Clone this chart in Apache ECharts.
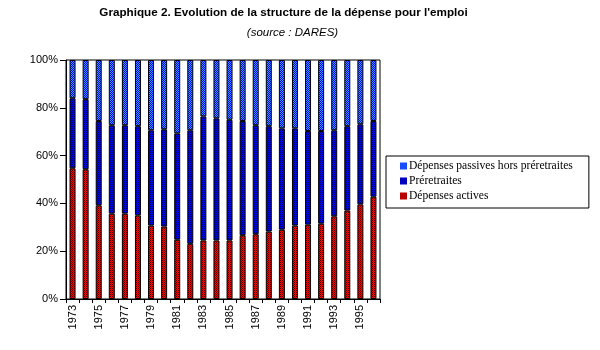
<!DOCTYPE html>
<html><head><meta charset="utf-8">
<script src="https://cdn.jsdelivr.net/npm/echarts@6/dist/echarts.min.js"></script>
<style>html,body{margin:0;padding:0;background:#fff}#c{width:600px;height:350px}</style>
</head><body><div id="c"></div>
<script>
var years = ['1973','1974','1975','1976','1977','1978','1979','1980','1981','1982','1983','1984','1985','1986','1987','1988','1989','1990','1991','1992','1993','1994','1995','1996'];
var actives = [54.7,54.3,39.2,35.7,35.7,35.0,30.7,30.3,24.8,23.1,24.5,24.5,24.5,26.7,27.1,28.2,29.0,30.7,31.1,31.5,34.6,37.0,39.6,42.8];
var preretraites = [29.3,29.3,35.3,37.0,37.0,37.3,39.9,40.7,44.5,47.5,51.9,51.1,50.5,47.8,45.6,44.1,42.4,40.7,39.2,38.8,36.0,35.3,33.5,31.7];
var passives = [16.0,16.4,25.5,27.3,27.3,27.7,29.4,29.0,30.7,29.4,23.6,24.4,25.0,25.5,27.3,27.7,28.6,28.6,29.7,29.7,29.4,27.7,26.9,25.5];
var yTicks = [0,20,40,60,80,100];
var names = ['Dépenses actives','Préretraites','Dépenses passives hors préretraites'];

function checker(a,b){
  var c=document.createElement('canvas');c.width=2;c.height=2;
  var g=c.getContext('2d');
  g.fillStyle=a;g.fillRect(0,0,2,2);
  g.fillStyle=b;g.fillRect(0,0,1,1);g.fillRect(1,1,1,1);
  return {image:c,repeat:'repeat'};
}
var cRed = checker('#ff0000','#700000');
var cDark = checker('#0000ff','#000080');
var cLight = checker('#0000ff','#3399ff');

var chart = echarts.init(document.getElementById('c'),null,{renderer:'canvas'});
function mk(name,data,color){
  return {name:name,type:'bar',stack:'s',data:data,barWidth:6,
    itemStyle:{color:color,borderColor:'#000',borderWidth:1},emphasis:{disabled:true}};
}
chart.setOption({
  animation:false,
  graphic:[
    {type:'text',x:283.5,y:7,style:{text:"Graphique 2. Evolution de la structure de la dépense pour l'emploi",
      textAlign:'center',textVerticalAlign:'top',fill:'#000',font:"bold 11.7px 'Liberation Sans',sans-serif"}},
    {type:'text',x:292.5,y:27,style:{text:"(source : DARES)",textAlign:'center',textVerticalAlign:'top',fill:'#000',
      font:"italic 11.5px 'Liberation Sans',sans-serif"}}
  ],
  grid:{left:66,right:220,top:60,bottom:51,show:true,borderColor:'#000',borderWidth:1,backgroundColor:'transparent'},
  legend:{orient:'vertical',left:386,top:156,itemWidth:7,itemHeight:7,itemGap:3,icon:'rect',
    data:[names[2],names[1],names[0]],
    borderColor:'#000',borderWidth:1,padding:[4,16,6,14],backgroundColor:'#fff',
    selectedMode:false,
    itemStyle:{borderColor:'#000',borderWidth:0},
    textStyle:{fontFamily:"'Liberation Serif',serif",fontSize:11.6,color:'#000',lineHeight:12,padding:[0,0,0,-3]}},
  xAxis:{type:'category',data:years,
    axisLine:{lineStyle:{color:'#000',width:1}},
    axisTick:{show:true,interval:0,length:4,lineStyle:{color:'#000'}},
    axisLabel:{interval:1,rotate:90,margin:6,color:'#000',fontFamily:"'Liberation Sans',sans-serif",fontSize:11}},
  yAxis:{type:'value',min:0,max:100,interval:20,
    axisLine:{show:true,lineStyle:{color:'#000',width:1}},
    axisTick:{show:true,length:6,lineStyle:{color:'#000'}},
    splitLine:{show:false},
    axisLabel:{margin:8,color:'#000',fontFamily:"'Liberation Sans',sans-serif",fontSize:11,
      formatter:function(v){return yTicks.indexOf(v)>=0? v+'%' : '';}}},
  series:[mk(names[0],actives,cRed),mk(names[1],preretraites,cDark),mk(names[2],passives,cLight)]
});
</script></body></html>
